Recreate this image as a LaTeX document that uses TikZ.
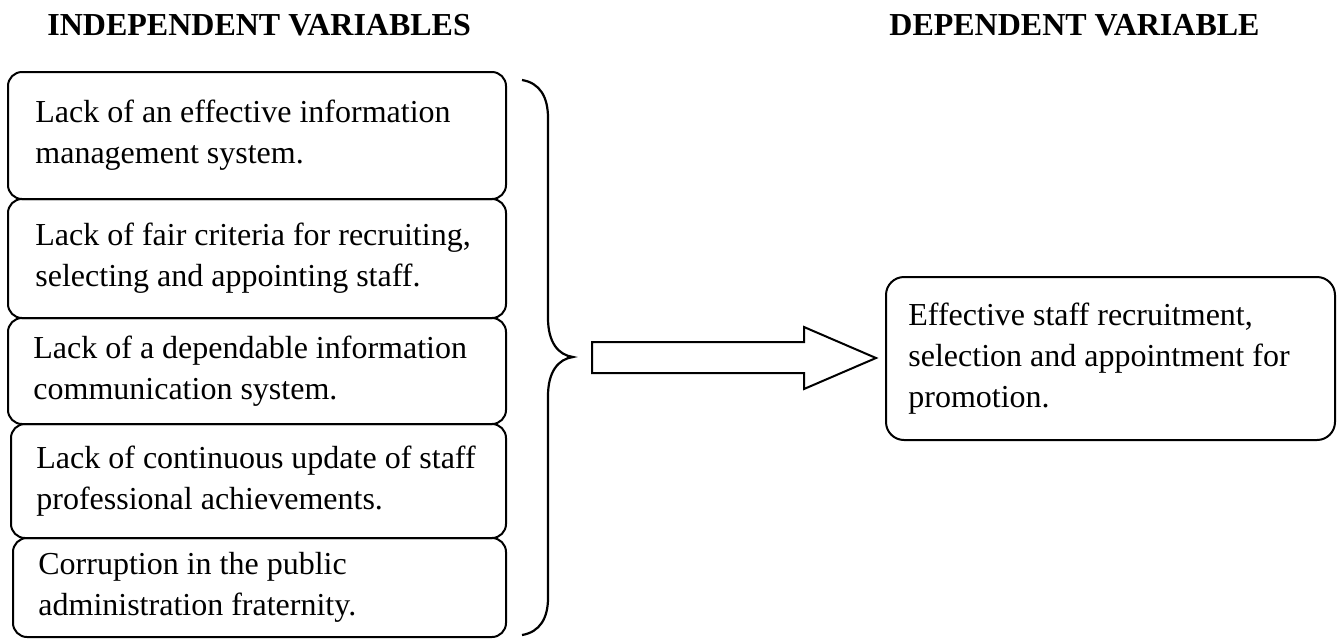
\documentclass[tikz,border=0pt]{standalone}
\usepackage{fontspec}
\setmainfont{Liberation Serif}
\usetikzlibrary{fit}
\begin{document}
\begin{tikzpicture}[x=0.5pt,y=-0.5pt,
  vbox/.style={draw,line width=1pt,rounded corners=7pt,inner sep=0pt},
  dbox/.style={draw,line width=1pt,rounded corners=9pt,inner sep=0pt},
  txt/.style={inner sep=0pt,align=left,font=\fontsize{16pt}{20.5pt}\selectfont},
  head/.style={inner sep=0pt,font=\fontsize{16pt}{19pt}\selectfont\bfseries},
  brace/.style={draw,line width=1.1pt},
  blockarrow/.style={draw,line width=1pt,line join=miter}]
\useasboundingbox (0,0) rectangle (1341,639);
% headings
\node[head,anchor=base west] (h1) at (47,35) {INDEPENDENT VARIABLES};
\node[head,anchor=base west] (h2) at (889,35) {DEPENDENT VARIABLE};
% independent variable boxes
\node[vbox,fit={(8,72)(506,199)}] (b1) {};
\node[vbox,fit={(8,199)(506,318)}] (b2) {};
\node[vbox,fit={(8,318)(506,424)}] (b3) {};
\node[vbox,fit={(11,424)(506,538)}] (b4) {};
\node[vbox,fit={(13,538)(506,637)}] (b5) {};
\node[txt,anchor=west] (t1) at ([xshift=14pt]b1.west) {Lack of an effective information\\management system.};
\node[txt,anchor=west] (t2) at ([xshift=14pt]b2.west) {Lack of fair criteria for recruiting,\\selecting and appointing staff.};
\node[txt,anchor=west] (t3) at ([xshift=13pt]b3.west) {Lack of a dependable information\\communication system.};
\node[txt,anchor=west] (t4) at ([xshift=13pt]b4.west) {Lack of continuous update of staff\\professional achievements.};
\node[txt,anchor=west] (t5) at ([xshift=13pt]b5.west) {Corruption in the public\\administration fraternity.};
% brace
\coordinate (btip) at (573,357);
\draw[brace] (522,80) .. controls (540,83) and (548,97) .. (548,118) -- (548,318)
  .. controls (548,342) and (558,355) .. (btip)
  .. controls (558,359) and (548,372) .. (548,396) -- (548,598)
  .. controls (548,618) and (540,632) .. (522,635);
% block arrow
\draw[blockarrow] (592,342) -- (804,342) -- (804,327) -- (876,358) -- (804,389) -- (804,373) -- (592,373) -- cycle;
% dependent variable box
\node[dbox,fit={(886,277)(1335,440)}] (d1) {};
\node[txt,anchor=west] (td) at ([xshift=11.5pt]d1.west) {Effective staff recruitment,\\selection and appointment for\\promotion.};
\end{tikzpicture}
\end{document}
